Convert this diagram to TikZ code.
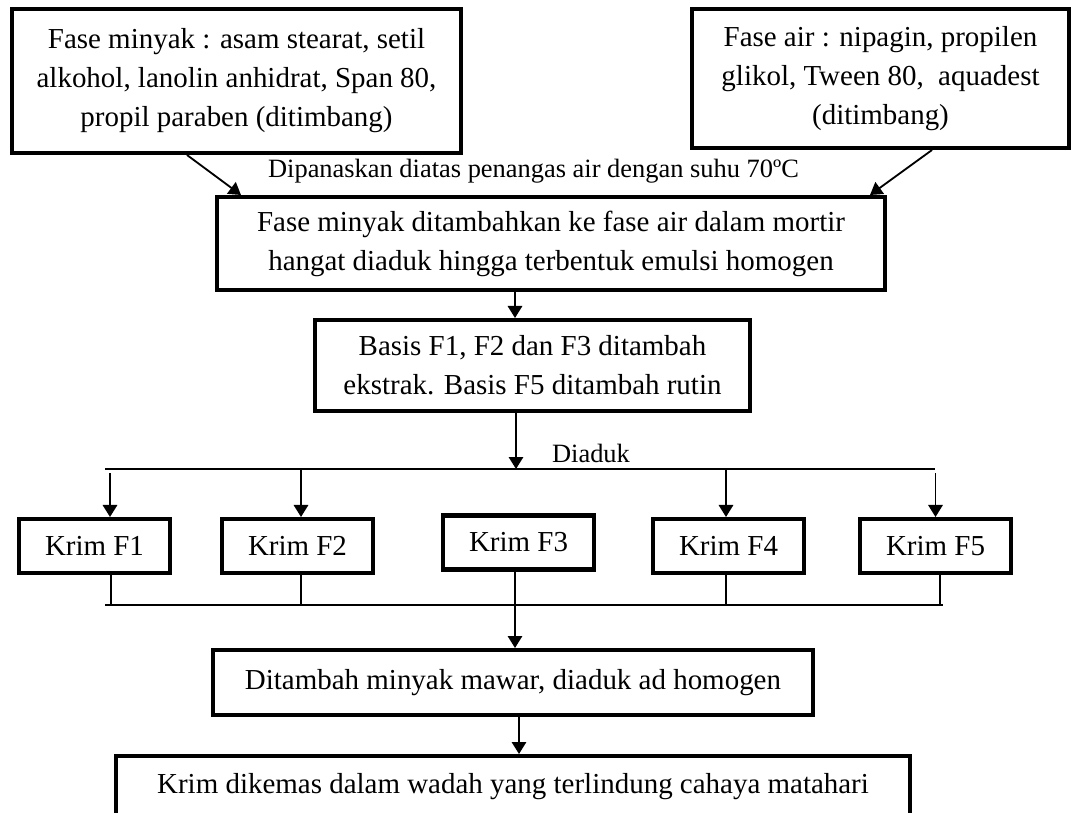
\documentclass[tikz,border=0pt]{standalone}
\usepackage{fontspec}
\setmainfont{Liberation Serif}
\usetikzlibrary{arrows.meta}
\tikzset{
  kotak/.style={draw, line width=2.85pt, align=center, inner sep=0pt,
    font=\fontsize{20.6}{27.7}\selectfont},
  krim/.style={kotak, minimum width=3.775cm, minimum height=1.35cm},
  ket/.style={anchor=base, inner sep=0pt, font=\fontsize{18.8}{22}\selectfont},
  panah/.style={line width=1.3pt, -{Triangle[length=0.3cm,width=0.36cm]}},
  garis/.style={line width=1pt}
}

\begin{document}
\begin{tikzpicture}
    \useasboundingbox (0,0) rectangle (26.775,-20.325);
    \node[kotak, minimum width=11.225cm, minimum height=3.6cm] (minyak) at (5.9125,-2.025)
        {Fase minyak : asam stearat, setil\\alkohol, lanolin anhidrat, Span 80,\\propil paraben (ditimbang)};
    \node[kotak, minimum width=9.425cm, minimum height=3.475cm] (air) at (22.0125,-1.9625)
        {Fase air : nipagin, propilen\\glikol, Tween 80, \ aquadest\\(ditimbang)};
    \node[ket] (panas) at (13.3375,-4.45) {Dipanaskan diatas penangas air dengan suhu 70ºC};
    \node[kotak, minimum width=16.7cm, minimum height=2.325cm] (emulsi) at (13.775,-6.0875)
        {Fase minyak ditambahkan ke fase air dalam mortir\\hangat diaduk hingga terbentuk emulsi homogen};
    \node[kotak, minimum width=10.875cm, minimum height=2.275cm] (basis) at (13.3125,-9.1375)
        {Basis F1, F2 dan F3 ditambah\\ekstrak. Basis F5 ditambah rutin};
    \node[ket] (diaduk) at (14.775,-11.55) {Diaduk};
    \node[krim] (krim1) at (2.3625,-13.65) {Krim F1};
    \node[krim] (krim2) at (7.4375,-13.65) {Krim F2};
    \node[krim] (krim3) at (12.9625,-13.5625) {Krim F3};
    \node[krim] (krim4) at (18.2125,-13.65) {Krim F4};
    \node[krim] (krim5) at (23.3875,-13.65) {Krim F5};
    \node[kotak, minimum width=15cm, minimum height=1.625cm] (mawar) at (12.825,-17.0625)
        {Ditambah minyak mawar, diaduk ad homogen};
    \node[kotak, minimum width=19.85cm, minimum height=1.55cm] (kemas) at (12.825,-19.675)
        {Krim dikemas dalam wadah yang terlindung cahaya matahari};

    \coordinate (bagiL) at (2.625,-11.725);
    \coordinate (bagiR) at (23.375,-11.725);
    \coordinate (gabungL) at (2.625,-15.125);
    \coordinate (gabungR) at (23.575,-15.125);

    \draw[panah] ([xshift=-1.2375cm]minyak.south) -- ([xshift=0.65cm]emulsi.north west);
    \draw[panah] ([xshift=1.2875cm]air.south) -- ([xshift=-0.425cm]emulsi.north east);
    \draw[panah] ([xshift=-0.9cm]emulsi.south) -- ([xshift=-0.4375cm]basis.north);
    \draw[panah] ([xshift=-0.4125cm]basis.south) -- ([xshift=-0.4125cm]basis.south |- bagiL);
    \draw[line width=1.3pt] (bagiL) -- (bagiR);
    \draw[panah] ([xshift=0.3875cm,yshift=-0.1cm]krim1.north |- bagiL) -- ([xshift=0.3875cm]krim1.north);
    \draw[panah] ([xshift=0.0875cm]krim2.north |- bagiL) -- ([xshift=0.0875cm]krim2.north);
    \draw[panah] ([xshift=-0.0625cm]krim4.north |- bagiL) -- ([xshift=-0.0625cm]krim4.north);
    \draw[panah] ([yshift=-0.1cm]krim5.north |- bagiR) -- (krim5.north);

    \draw[garis] ([xshift=0.4125cm]krim1.south) -- ([xshift=0.4125cm]krim1.south |- gabungL);
    \draw[garis] ([xshift=0.0875cm]krim2.south) -- ([xshift=0.0875cm]krim2.south |- gabungL);
    \draw[garis] ([xshift=-0.0625cm]krim4.south) -- ([xshift=-0.0625cm]krim4.south |- gabungL);
    \draw[garis] ([xshift=0.1125cm]krim5.south) -- ([xshift=0.1125cm]krim5.south |- gabungR);
    \draw[garis] (gabungL) -- (gabungR);
    \draw[panah] ([xshift=-0.0875cm]krim3.south) -- ([xshift=-0.0875cm]krim3.south |- mawar.north);
    \draw[panah] ([xshift=0.15cm]mawar.south) -- ([xshift=0.15cm]mawar.south |- kemas.north);
\end{tikzpicture}
\end{document}
